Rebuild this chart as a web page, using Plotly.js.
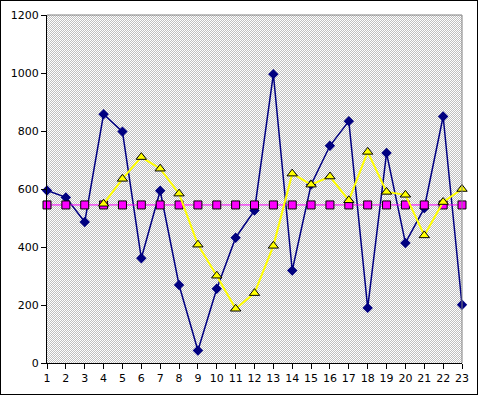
<!DOCTYPE html>
<html>
<head>
<meta charset="utf-8">
<script src="https://cdn.plot.ly/plotly-3.0.1.min.js"></script>
<style>
  html, body { margin: 0; padding: 0; background: #fff; }
  #wrap { position: relative; width: 479px; height: 395px; }
  #bg { position: absolute; left: 47px; top: 15px; width: 415px; height: 348px;
        background: repeating-conic-gradient(#c0c0c0 0 25%, #ffffff 0 50%) 0 0 / 2px 2px; }
  #chart { position: absolute; left: 0; top: 0; width: 479px; height: 395px; }
  #frame { position: absolute; left: 0; top: 0; width: 478px; height: 395px;
           box-sizing: border-box; border: 1px solid #000; pointer-events: none; }
</style>
</head>
<body>
<div id="wrap">
  <div id="bg"></div>
  <div id="chart"></div>
  <div id="frame"></div>
</div>
<script>
const categories = [1,2,3,4,5,6,7,8,9,10,11,12,13,14,15,16,17,18,19,20,21,22,23];
const seriesNavy = [595, 571, 486, 858, 798, 361, 594, 269, 43, 256, 432, 526, 996, 319, 615, 749, 834, 190, 724, 414, 534, 850, 201];
const seriesYellow = [null, null, null, 549, 635, 710, 670, 584, 408, 301, 187, 241, 404, 653, 615, 643, 561, 728, 590, 580, 440, 555, 600];
const seriesMagenta = [545,545,545,545,545,545,545,545,545,545,545,545,545,545,545,545,545,545,545,545,545,545,545];
const yTicks = [0, 200, 400, 600, 800, 1000, 1200];

const traces = [
  { x: categories, y: seriesNavy, type: 'scatter', mode: 'lines+markers', cliponaxis: false,
    line: { color: '#000080', width: 1.5 },
    marker: { symbol: 'diamond', size: 8, color: '#000080' } },
  { x: categories, y: seriesMagenta, type: 'scatter', mode: 'lines+markers', cliponaxis: false,
    line: { color: '#ff00ff', width: 1 },
    marker: { symbol: 'square', size: 8, color: '#ff00ff', line: { color: '#000000', width: 1 } } },
  { x: categories, y: seriesYellow, type: 'scatter', mode: 'lines+markers', cliponaxis: false,
    line: { color: '#ffff00', width: 2 },
    marker: { symbol: 'triangle-up', size: 9, color: '#ffff00', line: { color: '#000000', width: 1 } } }
];

const layout = {
  width: 479, height: 395,
  margin: { l: 47, r: 17, t: 15, b: 32, pad: 0 },
  paper_bgcolor: 'rgba(0,0,0,0)',
  plot_bgcolor: 'rgba(0,0,0,0)',
  showlegend: false,
  font: { family: 'DejaVu Sans', size: 11, color: '#000' },
  xaxis: {
    range: [1, 23], tickvals: categories, ticktext: categories.map(String),
    showgrid: false, zeroline: false, showline: true, linecolor: '#000', linewidth: 1,
    ticks: 'outside', ticklen: 5, tickcolor: '#000', tickwidth: 1,
    tickfont: { family: 'DejaVu Sans', size: 11, color: '#000' }
  },
  yaxis: {
    range: [0, 1200], tickvals: yTicks, ticktext: yTicks.map(String),
    showgrid: false, zeroline: false, showline: true, linecolor: '#000', linewidth: 1,
    ticks: 'outside', ticklen: 5, tickcolor: '#000', tickwidth: 1,
    tickfont: { family: 'DejaVu Sans', size: 11, color: '#000' }
  },
  shapes: [
    { type: 'line', xref: 'paper', yref: 'paper', x0: 0, x1: 1, y0: 1, y1: 1, line: { color: '#808080', width: 1 } },
    { type: 'line', xref: 'paper', yref: 'paper', x0: 1, x1: 1, y0: 0, y1: 1, line: { color: '#808080', width: 1 } }
  ]
};

Plotly.newPlot('chart', traces, layout, { displayModeBar: false, staticPlot: true });
</script>
</body>
</html>
